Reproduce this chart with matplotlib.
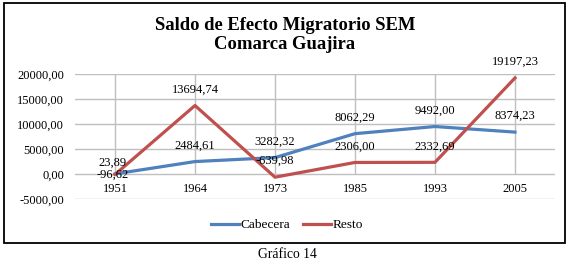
import matplotlib
matplotlib.use("Agg")
import matplotlib.pyplot as plt
from matplotlib.patches import Rectangle
from matplotlib.ticker import FuncFormatter

plt.rcParams["font.family"] = "Liberation Serif"

years = ["1951", "1964", "1973", "1985", "1993", "2005"]
cabecera = [23.89, 2484.61, 3282.32, 8062.29, 9492.00, 8374.23]
resto = [-96.62, 13694.74, -639.98, 2306.00, 2332.69, 19197.23]

blue = "#4F81BD"
red = "#C0504D"


def coma(v):
    # formato con coma decimal
    return f"{v:.2f}".replace(".", ",")


fig = plt.figure(figsize=(5.7, 2.66), dpi=100)
ax = fig.add_axes([0.1316, 0.2519, 0.842, 0.47])

x = list(range(len(years)))
ax.plot(x, cabecera, color=blue, lw=2.3, label="Cabecera", zorder=3)
ax.plot(x, resto, color=red, lw=2.3, label="Resto", zorder=3)

ax.set_xlim(-0.5, len(years) - 0.5)
ax.set_ylim(-5000, 20000)
ax.set_yticks(range(-5000, 20001, 5000))
ax.yaxis.set_major_formatter(FuncFormatter(lambda v, p: coma(v)))
ax.grid(axis="y", color="#BFBFBF", lw=1)
ax.vlines(x, 0, 20000, color="#BFBFBF", lw=1, zorder=1)
ax.set_axisbelow(True)

for s in ax.spines.values():
    s.set_visible(False)
ax.spines["bottom"].set_position(("data", 0))
ax.set_xticks(x)
ax.set_xticklabels(years)
ax.tick_params(length=0, labelsize=9)
ax.tick_params(axis="x", pad=6.5)
ax.tick_params(axis="y", pad=8)

# etiquetas de datos
for i in x:
    if i == 0:
        ax.annotate(coma(cabecera[i]), (i, cabecera[i]), xytext=(-2, 8), textcoords="offset points",
                    ha="center", va="center", fontsize=9)
        ax.annotate(coma(resto[i]), (i, resto[i]), xytext=(-2, 0), textcoords="offset points",
                    ha="center", va="center", fontsize=9)
        continue
    for serie in (cabecera, resto):
        ax.annotate(coma(serie[i]), (i, serie[i]), xytext=(0, 11.5), textcoords="offset points",
                    ha="center", va="center", fontsize=9)

fig.text(285 / 570, 0.868, "Saldo de Efecto Migratorio SEM\nComarca Guajira", ha="center", va="center",
         fontsize=13.4, fontweight="bold", linespacing=1.2)

fig.legend(loc="center", bbox_to_anchor=(287 / 570, 0.154), ncol=2, frameon=False,
           fontsize=9.6, handlelength=2.1, handletextpad=0.1, columnspacing=1.0)

fig.patches.append(Rectangle((4 / 570, 0.0865), 561 / 570, 0.902, transform=fig.transFigure,
                             fill=False, edgecolor="black", lw=1.3))
fig.text(287 / 570, 0.043, "Gráfico 14", ha="center", va="center", fontsize=9.8)

fig.savefig("out.png", dpi=100)
